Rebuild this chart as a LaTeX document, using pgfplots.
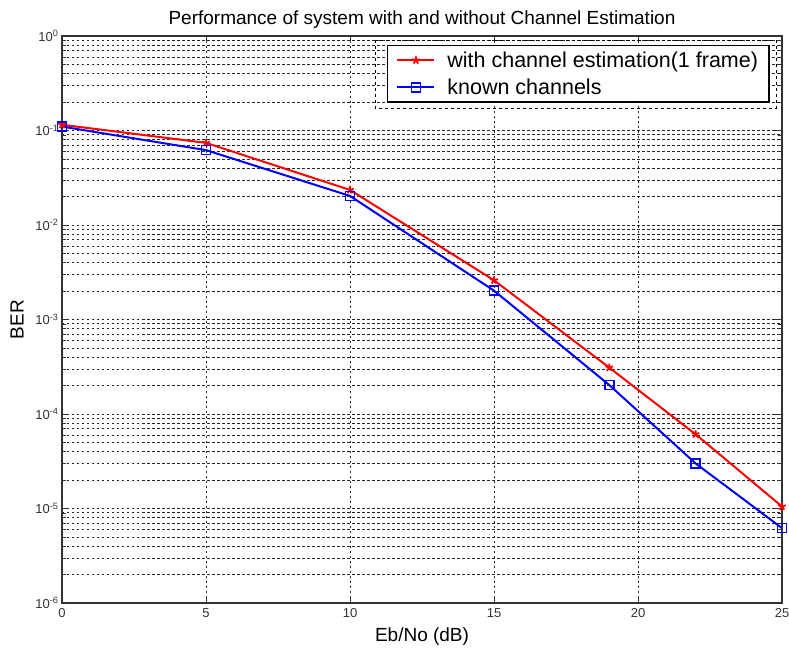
\documentclass[border=0pt]{standalone}
\usepackage{pgfplots}
\pgfplotsset{compat=1.18}
\usepackage{fontspec}
\setmainfont{Liberation Sans}
\begin{document}
\begin{tikzpicture}
\begin{axis}[
  at={(0,0)}, anchor=south west,
  scale only axis, width=720pt, height=567pt,
  xmin=0, xmax=25, ymode=log, ymin=1e-6, ymax=1,
  xtick={0,5,10,15,20,25},
  ytick={1e-6,1e-5,1e-4,1e-3,1e-2,1e-1,1},
  yticklabels={10\textsuperscript{-6},10\textsuperscript{-5},10\textsuperscript{-4},10\textsuperscript{-3},10\textsuperscript{-2},10\textsuperscript{-1},10\textsuperscript{0}},
  minor ytick={2e-6,3e-6,4e-6,5e-6,6e-6,7e-6,8e-6,9e-6,
               2e-5,3e-5,4e-5,5e-5,6e-5,7e-5,8e-5,9e-5,
               2e-4,3e-4,4e-4,5e-4,6e-4,7e-4,8e-4,9e-4,
               2e-3,3e-3,4e-3,5e-3,6e-3,7e-3,8e-3,9e-3,
               2e-2,3e-2,4e-2,5e-2,6e-2,7e-2,8e-2,9e-2,
               2e-1,3e-1,4e-1,5e-1,6e-1,7e-1,8e-1,9e-1},
  /pgf/number format/assume math mode=true,
  tick label style={font=\fontsize{13}{15}\selectfont, text=black!80},
  xticklabel style={yshift=-2pt},
  tick align=inside,
  major tick length=7pt, minor tick length=4pt,
  tick style={black!80, line width=0.6pt},
  axis line style={black!80, line width=1.2pt},
  grid=both,
  major grid style={black!85, line width=0.8pt, dash pattern=on 2.5pt off 2.5pt},
  minor grid style={black!85, line width=0.8pt, dash pattern=on 2.5pt off 2.5pt},
  xlabel={Eb/No (dB)},
  ylabel={BER},
  label style={font=\fontsize{19}{22}\selectfont},
  xlabel style={yshift=-3pt},
  ylabel style={yshift=5pt},
  title={Performance of system with and without Channel Estimation},
  title style={font=\fontsize{19}{22}\selectfont, yshift=-2pt},
  legend style={at={(0.983,0.984)}, anchor=north east, draw=black, line width=1.4pt,
    fill=white, font=\fontsize{21.5}{24}\selectfont, inner xsep=9pt, inner ysep=4pt,
    row sep=6pt, cells={anchor=west},
    /tikz/every odd column/.append style={column sep=10pt}},
  legend image code/.code={
    \draw[#1] (0cm,0cm) -- (1.3cm,0cm);
    \draw plot[#1, mark repeat=1] coordinates {(0.65cm,0cm)};
  },
]
\draw[black, line width=0.8pt, dash pattern=on 3pt off 3pt]
  (rel axis cs:0.4347,0.993) rectangle (rel axis cs:0.9917,0.873);
\addplot[red, line width=2pt, mark=star, mark size=4pt, mark options={line width=1.8pt, solid}]
  coordinates {(0,0.115) (5,0.074) (10,0.0235) (15,0.0026) (19,3.1e-4) (22,6.1e-5) (25,1.05e-5)};
\addlegendentry{with channel estimation(1 frame)\hspace{14pt}}
\addplot[blue, line width=2pt, mark=square, mark size=4.5pt, mark options={line width=1.6pt, solid}]
  coordinates {(0,0.11) (5,0.062) (10,0.0203) (15,0.00202) (19,2.03e-4) (22,3.0e-5) (25,6.2e-6)};
\addlegendentry{known channels}
\end{axis}
\pgfresetboundingbox
\path[use as bounding box] (-62pt,-48pt) rectangle (727pt,603pt);
\end{tikzpicture}
\end{document}
